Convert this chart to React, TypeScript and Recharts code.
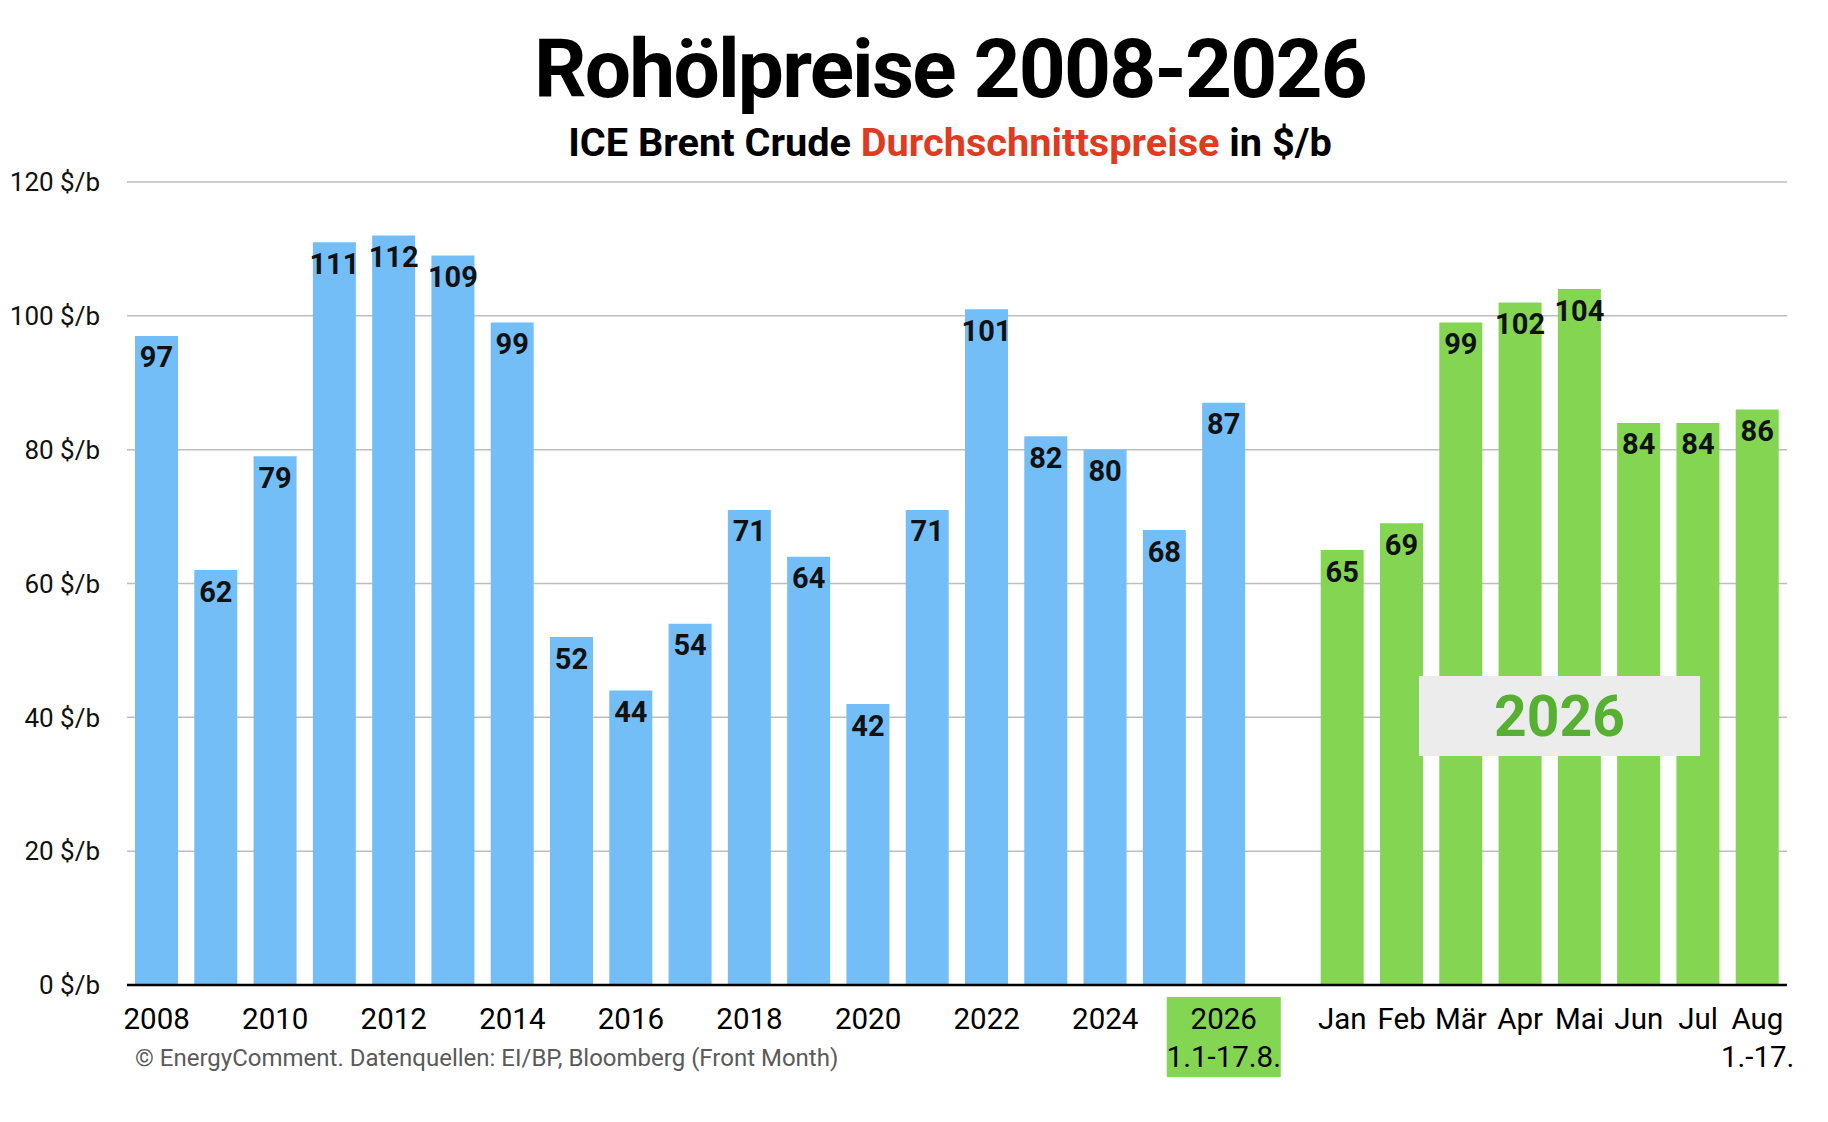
import React from "react";
import {
  BarChart,
  Bar,
  XAxis,
  YAxis,
  CartesianGrid,
  LabelList,
} from "recharts";

// yearly averages 2008-2026 (2026 = 1.1.-17.8.)
const years = [
  "2008", "2009", "2010", "2011", "2012", "2013", "2014", "2015", "2016", "2017",
  "2018", "2019", "2020", "2021", "2022", "2023", "2024", "2025", "2026",
];
const yearPrices = [97, 62, 79, 111, 112, 109, 99, 52, 44, 54, 71, 64, 42, 71, 101, 82, 80, 68, 87];

// monthly averages 2026
const months = ["Jan", "Feb", "Mär", "Apr", "Mai", "Jun", "Jul", "Aug"];
const monthPrices = [65, 69, 99, 102, 104, 84, 84, 86];

// which year ticks get a label
const yearTickLabels = ["2008", "2010", "2012", "2014", "2016", "2018", "2020", "2022", "2024", "2026"];
const yTicks = [0, 20, 40, 60, 80, 100, 120];

const BLUE = "#74bef8";
const GREEN = "#84d652";
const FONT = "Roboto, 'Noto Sans', sans-serif";

const data = [
  ...years.map((y, i) => ({ cat: y, year: yearPrices[i] })),
  { cat: "gap" },
  ...months.map((m, i) => ({ cat: m, month: monthPrices[i] })),
];

function XTick(props: any) {
  const { x, y, payload } = props;
  const v: string = payload.value;
  const show = yearTickLabels.includes(v) || months.includes(v);
  if (!show) return null;
  return (
    <g>
      {v === "2026" && (
        <rect x={x - 57} y={y + 12} width={114} height={80} fill={GREEN} />
      )}
      <text x={x} y={y + 44} textAnchor="middle" fontSize={29.5} fill="#000" fontFamily={FONT}>
        {v}
      </text>
      {v === "2026" && (
        <text x={x} y={y + 82} textAnchor="middle" fontSize={29.5} fill="#000" fontFamily={FONT}>
          1.1-17.8.
        </text>
      )}
      {v === "Aug" && (
        <text x={x + 37} y={y + 82} textAnchor="end" fontSize={29.5} fill="#000" fontFamily={FONT}>
          1.-17.
        </text>
      )}
    </g>
  );
}

export default function App() {
  return (
    <div
      style={{
        position: "absolute",
        left: 0,
        top: 0,
        width: 1828,
        height: 1122,
        background: "#fff",
        fontFamily: FONT,
      }}
    >
      <BarChart
        width={1828}
        height={1122}
        data={data}
        margin={{ top: 182, right: 41, bottom: 37, left: 0 }}
        style={{ fontFamily: FONT }}
      >
        <CartesianGrid vertical={false} stroke="#bdbdbd" strokeWidth={1.5} />
        <XAxis
          dataKey="cat"
          interval={0}
          height={100}
          tickLine={false}
          tickSize={0}
          tickMargin={0}
          axisLine={{ stroke: "#000", strokeWidth: 2.5 }}
          tick={<XTick />}
        />
        <YAxis
          domain={[0, 120]}
          ticks={yTicks}
          width={127}
          axisLine={false}
          tickLine={false}
          tickMargin={21}
          tickFormatter={(v: number) => `${v} $/b`}
          tick={{ fill: "#111", fontSize: 26, fontFamily: FONT }}
        />
        <Bar dataKey="year" stackId="p" fill={BLUE} barSize={43} isAnimationActive={false}>
          <LabelList
            dataKey="year"
            position="insideTop"
            offset={11}
            fill="#111"
            fontSize={29}
            fontWeight={700}
            fontFamily={FONT}
          />
        </Bar>
        <Bar dataKey="month" stackId="p" fill={GREEN} barSize={43} isAnimationActive={false}>
          <LabelList
            dataKey="month"
            position="insideTop"
            offset={11}
            fill="#111"
            fontSize={29}
            fontWeight={700}
            fontFamily={FONT}
          />
        </Bar>
      </BarChart>

      {/* titles, source note and the 2026 badge */}
      <svg
        width={1828}
        height={1122}
        style={{ position: "absolute", left: 0, top: 0, pointerEvents: "none" }}
        fontFamily={FONT}
      >
        <text
          x={950}
          y={97}
          textAnchor="middle"
          fontSize={82}
          fontWeight={700}
          letterSpacing={-1.8}
          fill="#000"
        >
          Rohölpreise 2008-2026
        </text>
        <text x={950} y={156} textAnchor="middle" fontSize={39.7} fontWeight={700} fill="#000">
          ICE Brent Crude <tspan fill="#e03a22">Durchschnittspreise</tspan> in $/b
        </text>
        <text x={135} y={1066} fontSize={24} fill="#5a5a5a">
          © EnergyComment. Datenquellen: EI/BP, Bloomberg (Front Month)
        </text>
        <rect x={1419} y={676} width={281} height={80} fill="#ececec" />
        <text x={1559.5} y={736} textAnchor="middle" fontSize={57} fontWeight={700} fill="#56b133">
          2026
        </text>
      </svg>
    </div>
  );
}
